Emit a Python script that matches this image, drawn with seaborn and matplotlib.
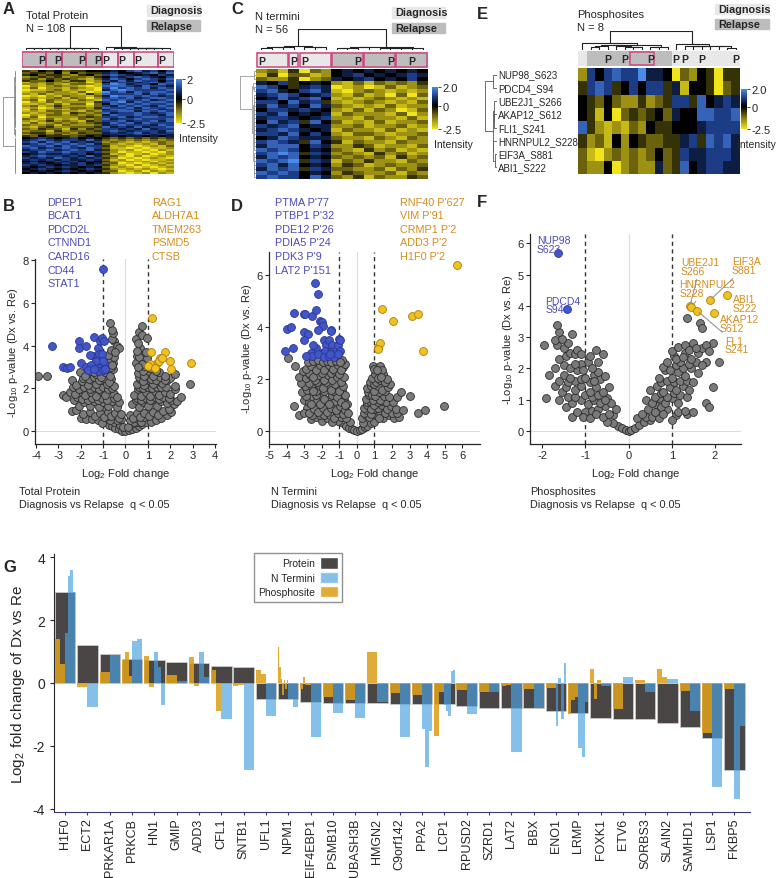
import numpy as np
import matplotlib
matplotlib.use("Agg")
import matplotlib.pyplot as plt
import seaborn as sns
from matplotlib.colors import LinearSegmentedColormap, ListedColormap
from matplotlib.patches import Rectangle, Patch
from matplotlib.transforms import blended_transform_factory

# ---------------- data ----------------
# heatmap cells coded 0..9 -> LEVELS (yellow .. black .. blue)
LEVELS = [-2.5, -2.0, -1.5, -1.0, -0.5, 0.0, 0.5, 1.0, 1.5, 2.0]

a_rows = [
    "4354534455565786757", "3443525344675567868", "4534432453787656576", "2343423324576787657",
    "3424343213687578768", "4335324412768687757", "1323232302587767868", "2213213321798677587",
    "0212322101888768776", "1302213210797878687", "0112312110689877778", "1223221301978687887",
    "2131222142877786878", "0102132213698878767", "1212313202787867887", "2303221321878778678",
    "0213122214789687887", "1121313303587878778", "2312422213768787687", "1201323324877868778",
    "0312213223688777867", "1213322132778868787", "2122314323867787678", "0213323232687787768",
    "1302222343778678877", "3213121323867787778", "2124232143778677868", "1312323234687868777",
    "3223132223678777687", "2134223334867686778", "3243314243776768677", "2331423334787677768",
    "3442332433676786767", "2343423344667677676", "4354443454565665656", "5676567565434343434",
    "6787677686323232323", "7868786767232121232", "6787878786321212132", "8778687877412101213",
    "7867787687311010112", "6778678786421201021", "7687787767320110102", "5676676756412012012",
    "6787767686331020121", "7676876767420101210", "6767676676312010112", "5656767565421212021",
    "6765676756330101212", "7676566767421020121", "6567676565312101012", "5676565676421212101",
    "6565676565330120212", "5656565656421012021",
]
a_groups = "RRRRRRRRRRDDDDDDDDD"
a_boxes = [(0, 3), (3, 5), (5, 8), (8, 10), (10, 12), (12, 14), (14, 17), (17, 19)]
a_pcols = [2, 4, 7, 9, 10, 12, 14, 17]

c_rows = [
    "2314032565656565", "1403312567565676", "3224023656756575", "6574565213132324",
    "8754676012013123", "7865786102321212", "6787567213120303", "5686785121232121",
    "7758674212321213", "6867586321213122", "5776765213132013", "7685656132221302",
    "6776567221322131", "5867485312131223", "7678566223122312", "6787656132213121",
    "7768575213321223", "5687666322132132", "7876485413221322", "6888576224312213",
    "8787565321423121", "7898476232142312", "6878565323231423", "8789476132422132",
    "7868565243123223", "6878476332231324", "8787565243223132", "7877586324132243",
]
c_groups = "DDDDDDDRRRRRRRRR"
c_boxes = [(0, 3), (3, 4), (4, 7), (7, 10), (10, 13), (13, 16)]
c_pcols = [0, 3, 4, 9, 12, 14]

e_labels = ["NUP98_S623", "PDCD4_S94", "UBE2J1_S266", "AKAP12_S612",
            "FLI1_S241", "HNRNPUL2_S228", "EIF3A_S881", "ABI1_S222"]
e_rows = [
    "2757877966503254044", "4787457577461554034", "5435322423477485676", "5415034345365588778",
    "8421213254455567777", "4231525433446748786", "3102323235347667776", "3225023226348567766",
]
e_groups = "DRRRRRRRRRRDDDDDDDD"
e_boxes = [(6, 9)]
e_pcols = [3, 5, 8, 11, 12, 14, 18]

# volcano B (total protein)
b_gray = [
    (-0.9, 0.45), (-0.75, 0.3), (-0.6, 0.22), (-0.45, 0.15), (-0.3, 0.08), (-0.15, 0.03), (0.0, 0.0),
    (0.15, 0.04), (0.3, 0.1), (0.45, 0.16), (0.6, 0.24), (0.75, 0.32), (0.9, 0.42), (-0.5, 0.45),
    (-0.25, 0.3), (0.25, 0.32), (0.5, 0.45), (-0.1, 0.2), (0.1, 0.18),
    (-0.55, 0.6), (-0.4, 0.5), (-0.7, 0.5), (0.4, 0.45), (0.55, 0.55), (0.7, 0.45), (-0.85, 0.7),
    (0.85, 0.65), (-1.0, 1.0), (1.0, 0.95), (-0.2, 0.55), (0.2, 0.5),
    (-2.0, 0.6), (-1.75, 0.55), (-1.5, 0.55), (-1.25, 0.5), (-1.05, 0.4), (1.15, 0.45), (1.35, 0.5),
    (1.6, 0.6), (1.85, 0.75), (2.05, 0.9),
    (-2.4, 0.95), (-2.2, 1.0), (-1.9, 0.8), (-1.6, 0.9), (-1.35, 0.7), (-1.15, 0.85), (-0.95, 0.65),
    (-0.8, 0.9), (-0.65, 0.7), (-0.45, 0.85), (-0.3, 0.6), (-0.2, 0.8), (0.2, 0.75), (0.35, 0.6),
    (0.5, 0.85), (0.65, 0.65), (0.85, 0.85), (1.05, 0.7), (1.25, 0.9), (1.45, 0.75), (1.7, 0.95),
    (1.95, 1.05), (2.15, 1.25),
    (-2.3, 1.45), (-2.1, 1.2), (-1.85, 1.35), (-1.6, 1.2), (-1.4, 1.4), (-1.2, 1.15), (-1.0, 1.35),
    (-0.8, 1.2), (-0.6, 1.4), (-0.4, 1.15), (-0.3, 1.35), (0.3, 1.25), (0.45, 1.45), (0.6, 1.15),
    (0.8, 1.35), (1.0, 1.2), (1.2, 1.45), (1.4, 1.2), (1.6, 1.4), (1.85, 1.3), (2.05, 1.45), (2.3, 1.4),
    (-2.15, 1.6), (-1.95, 1.5), (-1.7, 1.45), (-1.5, 1.55), (-1.25, 1.45), (-1.05, 1.55), (-0.85, 1.45),
    (-0.5, 1.55), (0.5, 1.55), (0.7, 1.45), (0.9, 1.55), (1.1, 1.45), (1.3, 1.6), (1.5, 1.5),
    (1.7, 1.6), (1.95, 1.55),
    (-2.8, 1.7), (-2.65, 1.6), (-2.5, 1.85), (-2.25, 1.75), (-2.0, 1.95), (-1.8, 1.7), (-1.55, 1.85),
    (-1.3, 1.65), (-1.1, 1.9), (-0.9, 1.7), (-0.7, 1.95), (-0.5, 1.75), (-0.38, 1.6), (0.4, 1.7),
    (0.55, 1.95), (0.7, 1.65), (0.9, 1.85), (1.1, 1.65), (1.3, 1.9), (1.5, 1.7), (1.75, 1.85),
    (2.0, 1.75), (2.2, 1.95), (2.5, 1.6),
    (-2.35, 2.05), (-2.1, 1.95), (-1.85, 2.05), (-1.6, 1.95), (-1.4, 2.05), (-1.2, 1.95), (-1.0, 2.05),
    (-0.8, 1.95), (-0.6, 2.0), (0.6, 2.05), (0.8, 2.0), (1.0, 2.05), (1.2, 2.0), (1.4, 2.05),
    (1.6, 2.05), (1.8, 2.05),
    (-3.9, 2.6), (-3.5, 2.6), (-2.4, 2.4), (-2.2, 2.15), (-1.95, 2.35), (-1.7, 2.15), (-1.5, 2.4),
    (-1.3, 2.2), (-1.05, 2.4), (-0.85, 2.2), (-0.65, 2.45), (-0.5, 2.1), (0.5, 2.2), (0.65, 2.45),
    (0.85, 2.15), (1.05, 2.4), (1.25, 2.2), (1.45, 2.45), (1.65, 2.25), (1.85, 2.4), (2.0, 2.5),
    (2.2, 2.1), (2.9, 2.2),
    (-1.9, 2.5), (-1.65, 2.45), (-1.4, 2.55), (-1.2, 2.4), (-0.95, 2.5), (-0.75, 2.3), (0.6, 2.55),
    (0.8, 2.35), (1.0, 2.6), (1.15, 2.45), (1.35, 2.4), (1.55, 2.55), (1.75, 2.4),
    (-2.05, 2.75), (-1.8, 2.6), (-1.55, 2.8), (-1.3, 2.65), (-1.1, 2.55), (-0.9, 2.75), (-0.7, 2.6),
    (-0.55, 2.9), (0.55, 2.7), (0.7, 2.95), (0.85, 2.6), (1.05, 2.8), (1.25, 2.6), (1.5, 2.75),
    (1.75, 2.6), (2.2, 2.65),
    (-1.4, 2.75), (-1.2, 2.9), (-0.8, 2.95), (-0.65, 3.0), (0.65, 3.2), (0.8, 2.8), (1.1, 2.95),
    (1.35, 2.8), (0.85, 3.05), (-0.75, 3.5), (-0.55, 3.2), (0.7, 3.6), (0.5, 3.5), (0.65, 3.9),
    (-0.5, 4.2), (-0.6, 4.3),
    (-0.85, 3.1), (-0.7, 3.35), (-0.6, 3.1), (-0.5, 3.45), (-0.8, 3.55), (0.45, 3.2), (0.6, 3.45),
    (0.75, 3.15), (0.95, 3.4), (0.55, 3.0), (0.9, 3.7),
    (-0.65, 3.8), (-0.4, 4.0), (-0.3, 3.9), (-0.55, 4.6), (-0.6, 4.75), (-0.7, 5.05), (0.45, 4.3),
    (0.55, 4.1), (0.6, 4.65), (0.75, 4.9), (0.75, 4.5), (0.95, 4.35), (-0.45, 3.7), (0.5, 3.75),
]
b_blue = [
    (-1.0, 7.6), (-3.3, 4.0), (-2.1, 4.2), (-2.1, 3.9), (-1.75, 4.0), (-1.4, 4.4), (-1.15, 4.2),
    (-1.05, 4.35), (-0.95, 4.2), (-1.25, 3.9), (-1.4, 3.5), (-1.2, 3.6), (-1.05, 3.6), (-1.6, 3.55),
    (-1.3, 3.3), (-2.0, 3.2), (-1.75, 3.0), (-1.55, 3.1), (-1.3, 2.95), (-1.1, 3.0), (-0.95, 3.2),
    (-2.8, 3.0), (-2.6, 2.95), (-2.5, 3.0), (-1.7, 2.85), (-1.2, 2.8), (-1.0, 2.85), (-1.4, 2.9),
    (-1.0, 3.3), (-0.9, 2.9),
]
b_orange = [
    (1.2, 5.3), (1.15, 3.7), (1.55, 3.4), (1.75, 3.7), (1.4, 3.2), (1.5, 3.3), (1.65, 3.4),
    (1.25, 3.0), (1.1, 3.15), (1.0, 3.05), (2.0, 3.3), (2.05, 2.9), (2.95, 3.2), (1.3, 2.95),
]
b_blue_names = ["DPEP1", "BCAT1", "PDCD2L", "CTNND1", "CARD16", "CD44", "STAT1"]
b_orange_names = ["RAG1", "ALDH7A1", "TMEM263", "PSMD5", "CTSB"]

# volcano D (N termini)
d_gray = [
    (-0.8, 0.3), (-0.6, 0.2), (-0.45, 0.12), (-0.3, 0.06), (-0.15, 0.03), (0.0, 0.0), (0.15, 0.03),
    (0.3, 0.08), (0.45, 0.15), (0.6, 0.2), (0.8, 0.3), (-1.1, 0.4), (1.0, 0.35), (-0.4, 0.35), (0.35, 0.3),
    (-2.6, 0.45), (-2.3, 0.55), (-2.0, 0.4), (-1.7, 0.5), (-1.4, 0.35), (-1.2, 0.6), (-0.9, 0.55), (-0.6, 0.5),
    (-3.3, 0.6), (-2.85, 0.9), (-2.55, 0.6), (-2.1, 0.6), (-1.85, 0.6), (-1.55, 0.6), (-1.3, 0.5),
    (-1.05, 0.7), (-0.8, 0.65),
    (-3.0, 0.7), (-2.7, 0.7), (-2.45, 0.85), (-2.2, 0.75), (-1.95, 0.9), (-1.7, 0.75), (-1.45, 0.9),
    (-1.2, 0.8), (-0.95, 0.95), (-0.7, 0.8), (-0.5, 0.7),
    (-3.6, 0.95), (-3.0, 1.2), (-2.75, 1.1), (-2.5, 1.3), (-2.25, 1.15), (-2.0, 1.35), (-1.75, 1.15),
    (-1.5, 1.3), (-1.25, 1.15), (-1.0, 1.35), (-0.75, 1.2), (-0.55, 1.05),
    (-2.9, 1.35), (-2.6, 1.05), (-2.35, 1.4), (-2.1, 1.05), (-1.9, 1.25), (-1.6, 1.05), (-1.4, 1.4),
    (-1.15, 1.3), (-0.9, 1.1), (-0.7, 1.0),
    (-3.1, 1.5), (-2.85, 1.6), (-2.6, 1.75), (-2.35, 1.55), (-2.1, 1.75), (-1.85, 1.55), (-1.6, 1.75),
    (-1.35, 1.55), (-1.1, 1.7), (-0.85, 1.55), (-0.65, 1.4),
    (-2.95, 1.75), (-2.75, 1.85), (-2.5, 1.55), (-2.25, 1.9), (-1.95, 1.65), (-1.75, 1.9), (-1.5, 1.6),
    (-1.25, 1.8), (-1.0, 1.55), (-0.8, 1.75),
    (-3.2, 1.85), (-3.3, 2.1), (-2.9, 2.05), (-2.65, 2.15), (-2.4, 1.95), (-2.15, 2.15), (-1.9, 1.95),
    (-1.65, 2.15), (-1.4, 1.95), (-1.15, 2.1), (-0.9, 1.9), (-0.75, 2.1),
    (-3.05, 2.3), (-2.75, 2.25), (-2.5, 2.1), (-2.25, 2.4), (-2.0, 2.25), (-1.75, 2.45), (-1.5, 2.25),
    (-1.25, 2.3), (-1.0, 2.2), (-0.8, 2.45),
    (-3.5, 2.5), (-3.9, 2.8), (-2.9, 2.4), (-2.6, 2.5), (-2.35, 2.35), (-2.1, 2.55), (-1.85, 2.35),
    (-1.6, 2.55), (-1.35, 2.4), (-1.1, 2.55), (-0.9, 2.35), (-0.7, 2.6), (-2.8, 2.65), (-0.85, 2.75),
    (-2.5, 2.7), (-2.2, 2.75), (-1.95, 2.65), (-1.7, 2.7), (-1.45, 2.65), (-1.2, 2.7), (-0.95, 2.65),
    (0.3, 0.5), (0.5, 0.6), (0.7, 0.55), (0.9, 0.7), (1.1, 0.6), (1.3, 0.75), (1.5, 0.5), (1.8, 0.6),
    (2.1, 0.5), (2.4, 0.55),
    (0.4, 0.7), (0.6, 0.8), (0.8, 0.65), (1.0, 0.85), (1.25, 0.5), (1.6, 0.7), (2.0, 0.7), (2.3, 0.7),
    (0.4, 0.9), (0.6, 1.0), (0.8, 0.85), (1.0, 1.05), (1.2, 0.9), (1.45, 1.0), (1.7, 0.85), (1.95, 0.95),
    (2.2, 0.85), (2.6, 0.8),
    (0.55, 1.1), (0.75, 1.15), (0.95, 1.0), (1.2, 1.1), (1.4, 1.15), (1.65, 1.1), (2.05, 1.1),
    (0.5, 1.25), (0.7, 1.4), (0.9, 1.2), (1.1, 1.35), (1.3, 1.2), (1.55, 1.35), (1.85, 1.3), (2.3, 1.3),
    (2.5, 1.5), (3.0, 1.35),
    (0.65, 1.5), (0.85, 1.4), (1.05, 1.35), (1.25, 1.5), (1.6, 1.55),
    (0.6, 1.65), (0.8, 1.75), (1.0, 1.55), (1.2, 1.75), (1.45, 1.6), (1.75, 1.7), (1.9, 1.8),
    (0.75, 1.9), (0.95, 1.8), (1.1, 1.9), (1.3, 1.95), (1.6, 1.9),
    (0.85, 2.05), (1.05, 2.2), (1.2, 2.05), (1.5, 2.2), (0.9, 2.5), (1.3, 2.5), (1.4, 2.35), (1.7, 2.0),
    (1.0, 2.4), (1.15, 2.35), (1.35, 2.1),
    (3.5, 0.7), (3.85, 0.8), (4.95, 0.95),
]
d_blue = [
    (-2.4, 5.7), (-2.2, 5.3), (-3.6, 4.55), (-3.0, 4.5), (-2.95, 4.5), (-2.55, 4.45), (-2.35, 4.65),
    (-2.1, 4.25), (-2.0, 4.2), (-1.95, 4.05), (-2.2, 3.9), (-1.5, 3.9), (-1.45, 3.85), (-4.0, 3.95),
    (-3.75, 4.0), (-3.0, 3.8), (-2.8, 3.75), (-3.0, 3.5), (-2.3, 3.2), (-1.9, 3.5), (-1.75, 3.3),
    (-1.6, 3.5), (-1.4, 3.3), (-1.1, 3.3), (-1.0, 3.55), (-0.95, 3.5), (-4.1, 3.1), (-3.65, 3.2),
    (-2.5, 3.3), (-2.6, 3.0), (-2.0, 3.0), (-1.8, 3.1), (-1.5, 3.05), (-1.2, 3.0), (-0.95, 3.1),
    (-2.55, 2.9), (-2.2, 2.95), (-1.9, 2.85), (-1.6, 2.9), (-1.3, 2.85), (-1.05, 2.95), (-2.9, 2.9),
    (-1.55, 2.95),
]
d_orange = [(5.7, 6.4), (1.4, 4.7), (2.05, 4.25), (3.15, 4.45), (3.5, 4.5), (1.2, 3.25),
            (1.3, 3.4), (1.2, 3.15), (3.75, 3.1)]
d_blue_names = ["PTMA P'77", "PTBP1 P'32", "PDE12 P'26", "PDIA5 P'24", "PDK3 P'9", "LAT2 P'151"]
d_orange_names = ["RNF40 P'627", "VIM P'91", "CRMP1 P'2", "ADD3 P'2", "H1F0 P'2"]

# volcano F (phosphosites)
f_gray = [
    (-0.25, 0.15), (-0.15, 0.08), (-0.05, 0.02), (0.0, 0.0), (0.05, 0.03), (0.15, 0.1), (0.25, 0.18),
    (-0.35, 0.25), (0.35, 0.3), (-0.5, 0.3), (0.5, 0.35),
    (-1.3, 0.45), (-1.0, 0.6), (-0.85, 0.65), (-0.7, 0.7), (-0.55, 0.8), (-0.35, 0.5), (0.2, 0.4),
    (0.4, 0.45), (0.55, 0.45), (0.7, 0.4), (0.9, 0.7), (1.1, 0.5), (0.65, 0.8), (0.75, 0.75),
    (-1.2, 0.6), (-1.05, 0.45), (-0.9, 0.4), (-0.75, 0.55), (-0.6, 0.45), (-0.45, 0.55), (-0.3, 0.7),
    (0.3, 0.55), (0.45, 0.7), (0.6, 0.6), (0.8, 0.55), (1.0, 0.35), (1.15, 0.6), (1.35, 0.55),
    (1.5, 0.6), (1.3, 0.65),
    (-1.45, 0.75), (-1.9, 1.05), (-1.6, 1.0), (-1.3, 0.9), (-1.1, 1.0), (-0.95, 0.85), (-0.8, 1.0),
    (-0.65, 0.9), (-0.5, 1.05), (-0.4, 0.9), (0.4, 1.0), (0.55, 0.9), (0.7, 1.05), (0.85, 0.9),
    (1.0, 1.05), (1.15, 0.9), (1.8, 0.9), (1.85, 0.78), (1.95, 1.4),
    (-1.4, 1.1), (-1.25, 1.1), (-1.0, 1.15), (-0.85, 1.1), (-0.7, 1.15), (-0.55, 1.0), (0.6, 1.1),
    (0.75, 1.2), (0.9, 1.1), (1.05, 1.2), (1.2, 1.15), (1.35, 1.1),
    (-1.55, 1.25), (-1.7, 1.45), (-1.45, 1.4), (-1.25, 1.3), (-1.1, 1.45), (-0.9, 1.25), (-0.75, 1.4),
    (-0.6, 1.25), (-0.45, 1.4), (0.5, 1.3), (0.65, 1.45), (0.8, 1.25), (0.95, 1.4), (1.1, 1.3),
    (1.25, 1.45), (1.4, 1.3),
    (-1.6, 1.6), (-1.4, 1.55), (-1.25, 1.6), (-1.1, 1.65), (-0.9, 1.55), (-0.8, 1.8), (-0.65, 1.65),
    (0.75, 1.55), (0.9, 1.6), (1.05, 1.55), (1.2, 1.6), (1.35, 1.6), (1.5, 1.55),
    (-1.85, 1.8), (-1.5, 1.8), (-1.7, 2.0), (-1.35, 1.7), (-1.2, 1.95), (-1.0, 1.7), (-0.95, 2.2),
    (-0.8, 1.6), (-0.7, 1.9), (-0.55, 1.75), (-1.1, 2.15), (0.7, 1.7), (0.85, 1.95), (1.0, 1.7),
    (1.15, 1.9), (1.3, 1.75), (1.45, 2.0), (1.6, 1.85), (1.8, 2.2), (2.1, 2.2),
    (-1.5, 2.1), (-1.35, 2.0), (-1.25, 2.15), (-1.05, 1.95), (-0.85, 2.0), (-0.7, 2.2), (0.8, 2.05),
    (0.95, 1.95), (1.1, 2.1), (1.25, 2.0), (1.4, 2.15), (1.55, 2.2), (1.7, 2.1),
    (-1.6, 2.3), (-1.45, 2.4), (-1.35, 2.5), (-1.25, 2.45), (-0.75, 2.6), (-0.6, 2.45), (-1.95, 2.75),
    (-1.65, 2.75), (-1.5, 2.65), (0.9, 2.2), (1.05, 2.4), (1.2, 2.2), (1.3, 2.5), (1.45, 2.3),
    (1.6, 2.5), (1.0, 2.55), (1.15, 2.7), (1.3, 2.75), (1.5, 2.8), (1.95, 2.8), (1.7, 2.65),
    (-1.4, 2.8), (-1.2, 2.6), (-0.9, 2.4), (-1.1, 2.45), (1.1, 2.3), (1.25, 2.35), (1.4, 2.6),
    (1.55, 2.65), (1.8, 2.75), (1.85, 2.55),
    (-1.7, 2.9), (-1.55, 2.95), (-1.6, 3.15), (-1.65, 3.4), (-1.3, 3.1), (1.35, 3.6), (1.65, 3.45),
    (1.7, 3.3),
]
f_blue = [(-1.63, 5.7), (-1.42, 3.9)]
f_blue_names = ["NUP98\nS623", "PDCD4\nS94"]
f_blue_text = [(-2.12, 5.96), (-1.93, 4.03)]
f_orange = [(1.42, 4.0), (1.88, 4.18), (1.45, 3.98), (2.28, 4.35), (1.98, 3.78), (1.58, 3.85)]
f_orange_names = ["UBE2J1\nS266", "EIF3A\nS881", "HNRNPUL2\nS228", "ABI1\nS222", "AKAP12\nS612", "FL1\nS241"]
f_orange_text = [(1.21, 5.25), (2.39, 5.28), (1.17, 4.55), (2.41, 4.07), (2.11, 3.43), (2.23, 2.75)]
f_orange_line = [True, True, True, False, False, True]

# panel G
genes = ["H1F0", "ECT2", "PRKAR1A", "PRKCB", "HN1", "GMIP", "ADD3", "CFL1", "SNTB1", "UFL1", "NPM1",
         "EIF4EBP1", "PSMB10", "UBASH3B", "HMGN2", "C9orf142", "PPA2", "LCP1", "RPUSD2", "SZRD1",
         "LAT2", "BBX", "ENO1", "LRMP", "FOXK1", "ETV6", "SORBS3", "SLAIN2", "SAMHD1", "LSP1", "FKBP5"]
protein_fc = [2.9, 1.22, 0.93, 0.76, 0.72, 0.68, 0.65, 0.55, 0.52, -0.52, -0.52, -0.6, -0.62, -0.65,
              -0.65, -0.66, -0.68, -0.68, -0.74, -0.78, -0.78, -0.81, -0.9, -0.95, -1.12, -1.15, -1.15,
              -1.27, -1.4, -1.75, -2.75]
phospho_fc = [[1.4, 0.6], [-0.12], [0.35], [0.72, 1.0, 0.22], [0.85, -0.12], [0.25], [0.82, -0.08],
              [0.4, -0.9], [-0.08, -0.05], [0.42, 0.3], [1.15, 0.5, 0.12, -0.38, 0.1, -0.2, 0.08],
              [-0.18, 0.2, -0.05, -0.05], [-0.45], [-0.55], [0.98], [-0.33], [-0.38], [-1.7, -0.3],
              [-0.22], [-0.3], [-0.1, -0.05], [-0.2], [-0.15], [-1.0, -0.55, -0.45], [0.43, -0.5, 0.1],
              [-0.82], [0.1], [0.45, 0.2], [-0.25], [-1.58], [-0.18]]
nterm_fc = [[1.6, 3.4, 3.6, 2.9], [-0.76], [0.88], [1.35, 1.4], [0.97, 0.5, -0.7], [0.05], [0.97, 0.2],
            [-1.13], [-2.75], [-1.05], [-0.5, -0.75], [-1.71], [-0.95], [-1.1], [-0.6], [-1.71],
            [-1.45, -2.67, -1.53], [-0.7, -0.9, -1.05, 0.38, 0.42], [-0.99], [-0.3], [-2.2], [-0.8],
            [-1.37, 0.16, -1.15, 0.65], [-2.08, -2.36, -0.6], [-0.1], [0.19], [-0.29], [0.14], [-0.88],
            [-3.3], [-3.7, -1.37]]

# ---------------- style ----------------
sns.set_style("ticks")
plt.rcParams["font.family"] = ["Liberation Sans", "DejaVu Sans"]
plt.rcParams["mathtext.fontset"] = "custom"
plt.rcParams["mathtext.rm"] = "Liberation Sans"
plt.rcParams["mathtext.it"] = "Liberation Sans:italic"
plt.rcParams["axes.unicode_minus"] = False

W, H = 778, 879
fig = plt.figure(figsize=(W / 100, H / 100), dpi=100)

cmap = LinearSegmentedColormap.from_list(
    "yk_b", [(0, "#f2e41a"), (0.28, "#847a10"), (0.556, "#000000"), (0.78, "#1d3c86"), (1, "#4a8ae8")])
DX_COL, RE_COL, PINK = "#e8e8e8", "#bdbdbd", "#d0457e"
BLUE_TXT, ORANGE_TXT = "#4b4bb8", "#d48c1c"


def px_axes(x0, y0, x1, y1):
    return fig.add_axes([x0 / W, 1 - y1 / H, (x1 - x0) / W, (y1 - y0) / H])


def ftext(x, y, s, **kw):
    return fig.text(x / W, 1 - y / H, s, **kw)


def decode(rows):
    return np.array([[LEVELS[int(c)] for c in r] for r in rows])


def adj_tree(mat):
    # order-preserving (adjacent-only) ward merging, so the tree matches the drawn order
    groups = [[i + 0.5, 0.0, np.asarray(mat[i], float), 1] for i in range(len(mat))]
    links = []
    while len(groups) > 1:
        d = []
        for k in range(len(groups) - 1):
            a, b = groups[k], groups[k + 1]
            w = np.sqrt(2.0 * a[3] * b[3] / (a[3] + b[3]))
            d.append(w * np.linalg.norm(a[2] - b[2]))
        k = int(np.argmin(d))
        a, b = groups[k], groups[k + 1]
        h = max(d[k], a[1], b[1])
        links.append((a[0], a[1], b[0], b[1], h))
        groups[k:k + 2] = [[(a[0] + b[0]) / 2, h, (a[2] * a[3] + b[2] * b[3]) / (a[3] + b[3]), a[3] + b[3]]]
    return links


def draw_dendro(ax, links, n, top, color, lw):
    hmax = max(l[4] for l in links)
    for xa, ha, xb, hb, h in links:
        if top:
            ax.plot([xa, xa, xb, xb], [ha, h, h, hb], color=color, lw=lw)
        else:
            ax.plot([ha, h, h, hb], [xa, xa, xb, xb], color=color, lw=lw)
    if top:
        ax.set_xlim(0, n)
        ax.set_ylim(0, hmax * 1.02)
    else:
        ax.set_ylim(n, 0)
        ax.set_xlim(hmax * 1.02, 0)
    ax.axis("off")


def heat_panel(rows, groups, boxes, pcols, hm, top, ann, side, cb, ticks, tlabels, side_col, int_x):
    mat = decode(rows)
    n_r, n_c = mat.shape
    ax = px_axes(*hm)
    cax = px_axes(*cb)
    sns.heatmap(mat, ax=ax, cmap=cmap, vmin=-2.5, vmax=2, cbar_ax=cax,
                xticklabels=False, yticklabels=False, cbar_kws={"ticks": ticks})
    cax.set_yticklabels(tlabels)
    cax.tick_params(labelsize=8, length=2, width=0.6, pad=1)
    ftext(int_x, cb[3] + 15, "Intensity", fontsize=7.5, va="center")

    # sample annotation strip (Diagnosis / Relapse) with patient boxes
    axa = px_axes(*ann)
    codes = np.array([[0 if g == "D" else 1 for g in groups]])
    sns.heatmap(codes, ax=axa, cmap=ListedColormap([DX_COL, RE_COL]), vmin=0, vmax=1, cbar=False,
                xticklabels=False, yticklabels=False)
    for a, b in boxes:
        axa.add_patch(Rectangle((a + 0.05, 0.05), b - a - 0.1, 0.9, fill=False, ec=PINK, lw=1.1))
    for c in pcols:
        axa.text(c + 0.5, 0.55, "P", ha="center", va="center", fontsize=7.5, fontweight="bold")

    axd = px_axes(*top)
    draw_dendro(axd, adj_tree(mat.T), n_c, True, "#222222", 0.8)
    axs = px_axes(*side)
    draw_dendro(axs, adj_tree(mat), n_r, False, side_col, 0.6)
    return ax


def legend_boxes(x0, x1, y_dx, y_re):
    for (ya, yb), lab, col in ((y_dx, "Diagnosis", DX_COL), (y_re, "Relapse", RE_COL)):
        fig.patches.append(Rectangle((x0 / W, 1 - yb / H), (x1 - x0) / W, (yb - ya) / H,
                                     transform=fig.transFigure, color=col, zorder=0))
        ftext(x0 + 3, (ya + yb) / 2, lab, fontsize=7.8, fontweight="bold", va="center")


# ---------------- heatmaps ----------------
heat_panel(a_rows, a_groups, a_boxes, a_pcols, (22, 71, 174, 175), (22, 27, 174, 51), (22, 52, 174, 69),
           (3, 71, 16, 175), (176, 80, 182, 124), [2, 0, -2.5], ["2", "0", "-2.5"], "#8a8a8a", 179)
ftext(26, 11, "Total Protein\nN = 108", fontsize=8, va="top", linespacing=1.35)
legend_boxes(147, 200, (6, 17), (21, 32))

heat_panel(c_rows, c_groups, c_boxes, c_pcols, (256, 70, 428, 180), (256, 30, 428, 51), (256, 53, 428, 69),
           (240, 70, 256, 180), (432, 88, 438, 130), [2, 0, -2.5], ["2.0", "0", "-2.5"], "#9a9a9a", 434)
ftext(255, 12, "N termini\nN = 56", fontsize=8, va="top", linespacing=1.35)
legend_boxes(392, 445, (8, 19), (24, 34))

ax_e = heat_panel(e_rows, e_groups, e_boxes, e_pcols, (578, 69, 740, 175), (578, 32, 740, 51),
                  (578, 52, 740, 67), (485, 69, 497, 175), (741, 90, 747, 130), [2, 0, -2.5],
                  ["2.0", "0", "-2.5"], "#555555", 737)
tr = blended_transform_factory(ax_e.transAxes, ax_e.transData)
for i, lab in enumerate(e_labels):
    ax_e.text((498 - 578) / 162, i + 0.5, lab, transform=tr, ha="left", va="center", fontsize=7)
ftext(577, 10, "Phosphosites\nN = 8", fontsize=8, va="top", linespacing=1.35)
legend_boxes(715, 769, (5, 15), (20, 30))


# ---------------- volcanoes ----------------
def volcano(rect, gray, blue, orange, xlim, ylim, xticks, yticks):
    ax = px_axes(*rect)
    ax.axvline(0, color="#dcdcdc", lw=0.8, zorder=0)
    ax.axhline(0, color="#dcdcdc", lw=0.8, zorder=0)
    for v in (-1, 1):
        ax.axvline(v, color="#333333", lw=1, ls=(0, (3, 2.5)), zorder=1)
    for pts, fc, ec, z in ((gray, "#7a7a7a", "#2b2b2b", 2), (blue, "#4356c8", "#2a3596", 3),
                           (orange, "#f1c11f", "#a97d10", 3)):
        sns.scatterplot(x=[p[0] for p in pts], y=[p[1] for p in pts], ax=ax, s=32, color=fc,
                        edgecolor=ec, linewidth=0.6, zorder=z, legend=False)
    ax.set_xlim(*xlim)
    ax.set_ylim(*ylim)
    ax.set_xticks(xticks)
    ax.set_yticks(yticks)
    sns.despine(ax=ax)
    for s in ("left", "bottom"):
        ax.spines[s].set_linewidth(0.9)
    ax.tick_params(labelsize=8, length=3, width=0.8, pad=1.5)
    ax.set_xlabel("Log$_2$ Fold change", fontsize=8, labelpad=4)
    ax.set_ylabel("-Log$_{10}$ p-value (Dx vs. Re)", fontsize=8, labelpad=2)
    return ax


volcano((35, 260, 216, 445), b_gray, b_blue, b_orange, (-4.05, 4.05), (-0.6, 8.05), range(-4, 5), [0, 2, 4, 6, 8])
volcano((269, 253, 480, 445), d_gray, d_blue, d_orange, (-5, 7), (-0.5, 6.9), range(-5, 7), [0, 2, 4, 6])
ax_f = volcano((530, 235, 741, 445), f_gray, f_blue, f_orange, (-2.28, 2.6), (-0.42, 6.3), range(-2, 3),
               range(0, 7))

for i, nm in enumerate(b_blue_names):
    ftext(47, 203 + 13.5 * i, nm, color=BLUE_TXT, fontsize=7.8, va="center")
for i, nm in enumerate(b_orange_names):
    ftext(152, 203 + 13.5 * i, nm, color=ORANGE_TXT, fontsize=7.8, va="center")
for i, nm in enumerate(d_blue_names):
    ftext(275, 203 + 13.5 * i, nm, color=BLUE_TXT, fontsize=7.8, va="center")
for i, nm in enumerate(d_orange_names):
    ftext(400, 203 + 13.5 * i, nm, color=ORANGE_TXT, fontsize=7.8, va="center")

for nm, (tx, ty) in zip(f_blue_names, f_blue_text):
    ax_f.text(tx, ty, nm, color=BLUE_TXT, fontsize=7.5, va="center", linespacing=0.85, clip_on=False)
for nm, (px, py), (tx, ty), ln in zip(f_orange_names, f_orange, f_orange_text, f_orange_line):
    ax_f.annotate(nm, xy=(px, py), xytext=(tx, ty), color=ORANGE_TXT, fontsize=7.5, va="center",
                  linespacing=0.85, annotation_clip=False,
                  arrowprops=dict(arrowstyle="-", color="#8a8a8a", lw=0.7, shrinkA=0, shrinkB=2) if ln else None)

for x, title in ((19, "Total Protein"), (271, "N Termini"), (530, "Phosphosites")):
    ftext(x, 492, title, fontsize=7.8, va="center")
    ftext(x, 505, "Diagnosis vs Relapse  q < 0.05", fontsize=7.8, va="center")

# ---------------- panel G ----------------
axg = px_axes(54, 555, 750, 813)
xs = np.arange(len(genes))
axg.bar(xs, protein_fc, width=0.92, color="#4a4646", edgecolor="#d0d0d0", linewidth=0.5, zorder=1)
for i in xs:
    ph, nt = phospho_fc[i], nterm_fc[i]
    wp = 0.46 / len(ph)
    axg.bar(i - 0.46 + wp * (np.arange(len(ph)) + 0.5), ph, width=wp, color="#dca01a", alpha=0.88,
            linewidth=0, zorder=2)
    wn = 0.46 / len(nt)
    axg.bar(i + wn * (np.arange(len(nt)) + 0.5), nt, width=wn, color="#4aa3e0", alpha=0.68,
            linewidth=0, zorder=3)
axg.set_xlim(-0.5, 30.7)
axg.set_ylim(-4.1, 4.1)
axg.set_yticks([-4, -2, 0, 2, 4])
axg.set_xticks(xs)
axg.set_xticklabels(genes, rotation=90, fontsize=9)
axg.tick_params(axis="y", labelsize=10, length=3, width=0.8)
axg.tick_params(axis="x", length=2.5, width=0.8, color="#3b3b7a", pad=1.5)
sns.despine(ax=axg)
axg.spines["bottom"].set_color("#3b3b7a")
axg.set_ylabel("Log$_2$ fold change of Dx vs Re", fontsize=11, labelpad=4)
fig.legend(handles=[Patch(facecolor="#4a4646", label="Protein"),
                    Patch(facecolor="#4aa3e0", alpha=0.68, label="N Termini"),
                    Patch(facecolor="#dca01a", alpha=0.88, label="Phosphosite")],
           loc="upper left", bbox_to_anchor=(254 / W, 1 - 554 / H), markerfirst=False, fontsize=7.5,
           frameon=True, fancybox=False, edgecolor="#777777", handlelength=1.7, handleheight=1.3,
           borderpad=0.4, labelspacing=0.3, handletextpad=0.5, borderaxespad=0)

for x, y, letter in ((3, 2, "A"), (3, 199, "B"), (231, 2, "C"), (231, 199, "D"), (477, 7, "E"),
                     (477, 195, "F"), (3, 560, "G")):
    ftext(x, y, letter, fontsize=12, fontweight="bold", va="top")

fig.savefig("out.png", dpi=100)
